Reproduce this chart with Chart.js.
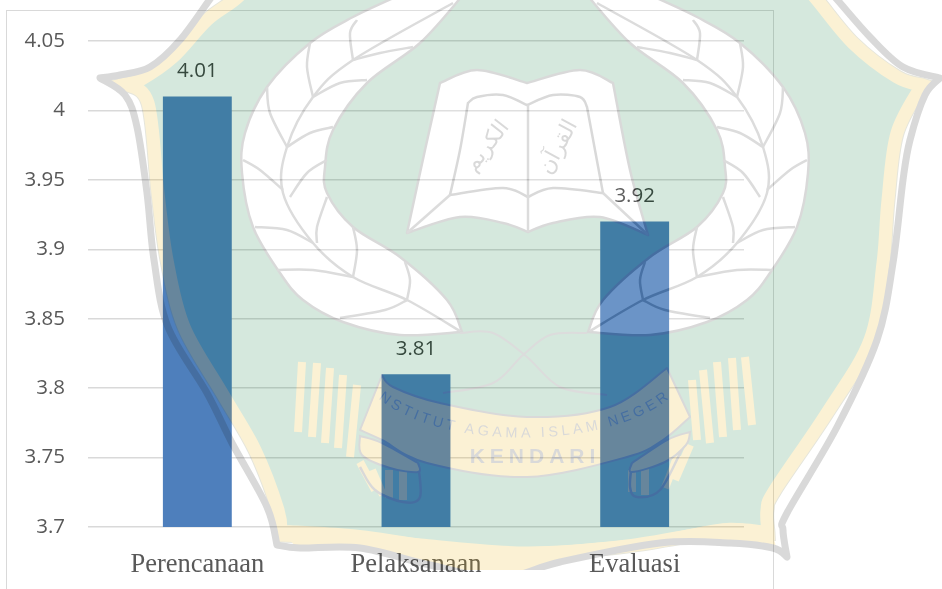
<!DOCTYPE html>
<html>
<head>
<meta charset="utf-8">
<script src="https://cdn.jsdelivr.net/npm/chart.js@4"></script>
<style>
  html, body { margin: 0; padding: 0; background: #fff; overflow: hidden; }
  #hoja { position: relative; width: 942px; height: 589px; overflow: hidden; }
  #grafica { position: absolute; left: 0; top: 0; }
  #marco { position: absolute; left: 6px; top: 10px; width: 766px; height: 700px; border: 1.5px solid #d9d9d9; }
  #sello { position: absolute; left: 0; top: 0; opacity: 0.17; pointer-events: none; }
</style>
</head>
<body>
<div id="hoja">
  <div id="marco"></div>
  <canvas id="grafica" width="942" height="589"></canvas>
  <svg id="sello" width="942" height="589" viewBox="0 0 942 589"></svg>
</div>
<script>
// Datos de la grafica
const kategori = ["Perencanaan", "Pelaksanaan", "Evaluasi"];
const nilai = [4.01, 3.81, 3.92];
const sumbuMin = 3.7;
const sumbuMax = 4.05;
const sumbuStep = 0.05;

// Curva suave por puntos (Catmull-Rom), solo para el sello de fondo
function curva(pts, mover = true) {
  let d = mover ? `M${pts[0][0]} ${pts[0][1]}` : `L${pts[0][0]} ${pts[0][1]}`;
  for (let i = 0; i < pts.length - 1; i++) {
    const a = pts[i - 1] || pts[i], b = pts[i], c = pts[i + 1], e = pts[i + 2] || c;
    d += `C${b[0] + (c[0] - a[0]) / 6} ${b[1] + (c[1] - a[1]) / 6} ${c[0] - (e[0] - b[0]) / 6} ${c[1] - (e[1] - b[1]) / 6} ${c[0]} ${c[1]}`;
  }
  return d;
}
const tramos = (lista) => lista.map((t, i) => curva(t, i === 0)).join("") + "Z";
const linea = (pts, w = 2.5, color = "#303030") =>
  `<path d="${curva(pts)}" fill="none" stroke="${color}" stroke-width="${w}"/>`;

// Sello institucional de fondo
function dibujarSello() {
  const verde = "#087837", oro = "#e7ad02", gris = "#202020";

  const contornoGris = tramos([
    [[240, -40], [213, -5], [180, 40], [150, 67], [120, 75], [100, 78]],
    [[100, 78], [125, 95], [137, 127], [147, 193], [154, 260], [168, 327], [207, 393], [232, 443], [267, 507], [277, 545]],
    [[277, 545], [300, 548], [360, 548], [430, 565], [500, 578], [560, 562], [660, 543], [730, 543], [773, 548], [787, 557]],
    [[787, 557], [783, 530], [787, 513], [837, 427], [877, 340], [893, 263], [903, 180], [910, 140], [925, 95], [940, 78]],
    [[940, 78], [903, 67], [870, 37], [833, -5], [800, -40]],
  ]);
  const contornoOro = tramos([
    [[265, -40], [240, -5], [207, 20], [173, 57], [140, 80], [125, 84]],
    [[125, 84], [148, 103], [158, 193], [167, 260], [184, 327], [222, 393], [255, 450], [278, 510], [281, 535]],
    [[281, 535], [360, 538], [420, 545], [527, 553], [627, 546], [727, 530], [768, 533]],
    [[768, 533], [767, 510], [775, 490], [827, 413], [870, 340], [883, 263], [888, 200], [897, 133], [922, 85]],
    [[922, 85], [897, 77], [853, 43], [813, -5], [780, -40]],
  ]);
  // Banda inferior mas ancha, entre el verde y el borde gris
  const bandaInferior = tramos([
    [[285, 525], [360, 530], [493, 547], [627, 540], [727, 523], [770, 532]],
    [[770, 532], [773, 548], [730, 543], [660, 543], [560, 562], [500, 578], [430, 565], [360, 548], [300, 548], [285, 525]],
  ]);

  // Corona de hojas: se dibuja la izquierda y se refleja a la derecha
  const corona = tramos([
    [[400, -5], [353, 17], [310, 43], [267, 87], [245, 133], [242, 173], [253, 227], [280, 273], [303, 300], [343, 322], [400, 335], [462, 332]],
    [[462, 332], [447, 300], [400, 257], [353, 227], [327, 193], [325, 167], [333, 130], [367, 83], [420, 43], [463, -5]],
  ]);
  const venas = [
    [[453, 3], [353, 60], [313, 97], [287, 147], [283, 193], [313, 243], [353, 277], [407, 300], [460, 331]],
    [[353, 60], [350, 33], [357, 20]], [[313, 97], [307, 67], [310, 43]], [[287, 147], [270, 113], [267, 87]],
    [[283, 190], [260, 170], [243, 160]], [[313, 243], [287, 230], [255, 227]], [[353, 277], [313, 270], [277, 270]],
    [[353, 60], [380, 53], [413, 47]], [[313, 97], [340, 83], [367, 80]], [[287, 147], [310, 133], [333, 127]],
    [[290, 197], [307, 173], [327, 160]], [[317, 243], [317, 227], [327, 197]], [[353, 277], [357, 250], [353, 227]],
    [[407, 300], [410, 280], [405, 262]], [[407, 300], [385, 310], [340, 318]],
  ].map((p) => linea(p)).join("");
  const mitadCorona = `<path d="${corona}" fill="#fff" stroke="${gris}" stroke-width="2.5"/>${venas}`;

  // Libro abierto
  const libro = tramos([
    [[407, 233], [425, 150], [440, 83]],
    [[440, 83], [477, 70], [527, 83]],
    [[527, 83], [580, 70], [613, 83]],
    [[613, 83], [630, 170], [648, 235]],
    [[648, 235], [600, 217], [553, 223], [528, 232]],
    [[528, 232], [503, 223], [460, 217], [407, 233]],
  ]);
  const pagina = tramos([
    [[468, 103], [477, 97], [503, 95], [527, 105]],
    [[527, 105], [553, 95], [580, 97], [587, 107]],
    [[587, 107], [595, 150], [603, 193]],
    [[603, 193], [553, 188], [528, 197]],
    [[528, 197], [503, 188], [450, 195]],
    [[450, 195], [460, 150], [468, 103]],
  ]);

  // Pita y flecos
  const flecos = [
    [[302, 362], [298, 432]], [[317, 363], [312, 437]], [[330, 368], [325, 443]], [[343, 375], [338, 448]], [[357, 385], [350, 457]],
    [[745, 357], [752, 425]], [[732, 358], [737, 430]], [[717, 362], [723, 437]], [[703, 370], [710, 443]], [[692, 380], [697, 440]],
    [[360, 462], [375, 490]], [[372, 470], [383, 495]], [[690, 445], [675, 480]], [[678, 455], [665, 488]],
    [[389, 470], [389, 498]], [[403, 470], [403, 500]], [[645, 468], [645, 495]], [[632, 470], [632, 492]],
  ].map((p) => linea(p, 8, oro)).join("");
  const pita = tramos([
    [[382, 375], [393, 387], [440, 403], [527, 417], [610, 407], [667, 368]],
    [[667, 368], [690, 417]],
    [[690, 417], [663, 440], [627, 457], [527, 477], [427, 463], [382, 440], [360, 430]],
    [[360, 430], [382, 375]],
  ]);
  // Pliegues: relleno arriba y flecos abajo, con su contorno
  const pliegueIzq = tramos([[[360, 436], [382, 443], [418, 463]], [[418, 463], [418, 472], [390, 468], [362, 455], [360, 436]]]);
  const bordeIzq = [[418, 463], [420, 497], [403, 502], [375, 490], [360, 467]];
  const pliegueDer = tramos([[[690, 432], [667, 440], [632, 463]], [[632, 463], [632, 472], [665, 462], [686, 445], [690, 432]]]);
  const bordeDer = [[632, 463], [630, 487], [637, 497], [660, 490], [683, 447]];
  const cintas = linea([[460, 333], [493, 333], [527, 357], [560, 387], [607, 395]], 2) +
    linea([[587, 333], [550, 335], [523, 355], [493, 383], [443, 393]], 2);

  document.getElementById("sello").innerHTML = `
    <defs>
      <clipPath id="corte"><rect x="0" y="0" width="942" height="570"/></clipPath>
      <path id="arcoPita" d="M378 398C440 451 610 451 672 396"/>
    </defs>
    <g clip-path="url(#corte)">
      <path d="${contornoOro}" fill="${verde}" stroke="#6a6a30" stroke-width="15" stroke-linejoin="miter"/>
      <path d="${contornoOro}" fill="${verde}" stroke="${oro}" stroke-width="13" stroke-linejoin="miter"/>
      <path d="${bandaInferior}" fill="${oro}"/>
      <path d="${contornoGris}" fill="none" stroke="${gris}" stroke-width="7" stroke-linejoin="round"/>
      ${mitadCorona}
      <g transform="translate(1050 0) scale(-1 1)">${mitadCorona}</g>
      <path d="${libro}" fill="#fff" stroke="${gris}" stroke-width="2.5" stroke-linejoin="round"/>
      <path d="${pagina}" fill="none" stroke="${gris}" stroke-width="2.5"/>
      ${linea([[528, 105], [528, 232]])}${linea([[450, 195], [407, 233]])}${linea([[603, 193], [648, 235]])}
      <text x="492" y="150" transform="rotate(-52 492 150)" text-anchor="middle" font-family="DejaVu Sans" font-size="22" fill="${gris}" direction="rtl">الكريم</text>
      <text x="564" y="150" transform="rotate(-62 564 150)" text-anchor="middle" font-family="DejaVu Sans" font-size="22" fill="${gris}" direction="rtl">القرآن</text>
      ${cintas}
      ${flecos}
      ${linea(bordeIzq, 2.5, gris)}${linea(bordeDer, 2.5, gris)}
      <path d="${pliegueIzq}" fill="${oro}" stroke="${gris}" stroke-width="2"/>
      <path d="${pliegueDer}" fill="${oro}" stroke="${gris}" stroke-width="2"/>
      <path d="${pita}" fill="${oro}" stroke="${gris}" stroke-width="2" stroke-linejoin="round"/>
      <text font-family="Liberation Sans" font-size="14.5" letter-spacing="3.6" fill="${gris}">
        <textPath href="#arcoPita" startOffset="50%" text-anchor="middle">INSTITUT AGAMA ISLAM NEGERI</textPath>
      </text>
      <text x="535" y="463" text-anchor="middle" font-family="Liberation Sans" font-weight="bold" font-size="21" letter-spacing="5" fill="${gris}">KENDARI</text>
    </g>`;
}

// Etiquetas de valor encima de cada barra
const etiquetasValor = {
  id: "etiquetasValor",
  afterDatasetsDraw(chart) {
    const { ctx } = chart;
    ctx.save();
    ctx.font = '20.5px "Open Sans"';
    ctx.fillStyle = "#404040";
    ctx.textAlign = "center";
    ctx.textBaseline = "middle";
    chart.getDatasetMeta(0).data.forEach((barra, i) => {
      ctx.fillText(nilai[i].toFixed(2), barra.x, barra.y - 25);
    });
    ctx.restore();
  },
};

dibujarSello();

new Chart(document.getElementById("grafica").getContext("2d"), {
  type: "bar",
  data: {
    labels: kategori,
    datasets: [{
      data: nilai,
      backgroundColor: "#4e7fbc",
      categoryPercentage: 1,
      barPercentage: 0.315,
    }],
  },
  options: {
    responsive: false,
    animation: false,
    layout: { padding: { top: 41, right: 198, bottom: 0, left: 0 } },
    plugins: { legend: { display: false }, tooltip: { enabled: false } },
    scales: {
      x: {
        grid: { display: false },
        border: { display: false },
        ticks: {
          color: "#595959",
          font: { family: "Liberation Serif", size: 26.5 },
          padding: 14,
          maxRotation: 0,
        },
        afterFit(s) { s.height = 62; },
      },
      y: {
        min: sumbuMin,
        max: sumbuMax,
        grid: { color: "#d9d9d9", lineWidth: 1.4, drawTicks: false },
        border: { display: false },
        ticks: {
          stepSize: sumbuStep,
          color: "#595959",
          font: { family: "Open Sans", size: 20.5 },
          padding: 23,
          callback: (v) => String(+v.toFixed(2)),
        },
        afterFit(s) { s.width = 88; },
      },
    },
  },
  plugins: [etiquetasValor],
});
</script>
</body>
</html>
